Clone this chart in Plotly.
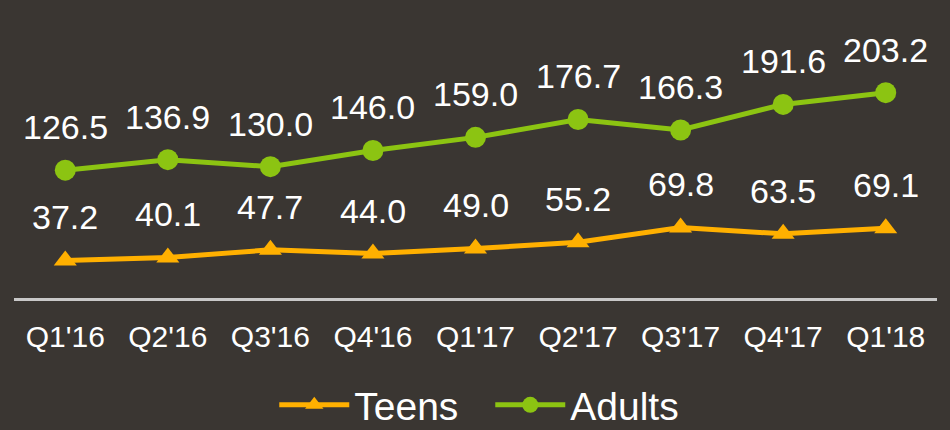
import plotly.graph_objects as go

quarters = ["Q1'16", "Q2'16", "Q3'16", "Q4'16", "Q1'17", "Q2'17", "Q3'17", "Q4'17", "Q1'18"]
teens = [37.2, 40.1, 47.7, 44.0, 49.0, 55.2, 69.8, 63.5, 69.1]
adults = [126.5, 136.9, 130.0, 146.0, 159.0, 176.7, 166.3, 191.6, 203.2]

BG = "#3a3632"
ORANGE = "#ffb000"
GREEN = "#8cc412"
FONT = "Liberation Sans, Arial, sans-serif"

fig = go.Figure()
fig.add_trace(go.Scatter(
    x=quarters, y=teens, name="Teens", mode="lines+markers",
    line=dict(color=ORANGE, width=5),
    marker=dict(symbol="triangle-up", size=20, color=ORANGE),
))
fig.add_trace(go.Scatter(
    x=quarters, y=adults, name="Adults", mode="lines+markers",
    line=dict(color=GREEN, width=5),
    marker=dict(symbol="circle", size=21, color=GREEN),
))

annotations = []
for series in (teens, adults):
    for q, v in zip(quarters, series):
        annotations.append(dict(
            x=q, y=v, text=f"{v:.1f}", showarrow=False,
            xanchor="center", yanchor="middle", yshift=43,
            font=dict(family=FONT, size=34, color="white"),
        ))

fig.update_layout(
    width=950, height=430,
    paper_bgcolor=BG, plot_bgcolor=BG,
    margin=dict(l=14, r=13, t=5, b=132, autoexpand=False),
    showlegend=True,
    legend=dict(
        orientation="h", x=0.516, xanchor="center", y=-0.365, yanchor="middle",
        font=dict(family=FONT, size=39, color="white"),
        bgcolor="rgba(0,0,0,0)", itemwidth=70, entrywidth=131,
    ),
    annotations=annotations,
    xaxis=dict(
        type="category", range=[-0.5, 8.5], showgrid=False, zeroline=False,
        showline=True, linecolor="#c8c8c8", linewidth=3,
        ticks="", tickfont=dict(family=FONT, size=30, color="white"),
        ticklabelstandoff=10, fixedrange=True,
    ),
    yaxis=dict(
        range=[0, 290], showgrid=False, zeroline=False, showline=False,
        showticklabels=False, fixedrange=True,
    ),
)

fig.write_html("out.html")
